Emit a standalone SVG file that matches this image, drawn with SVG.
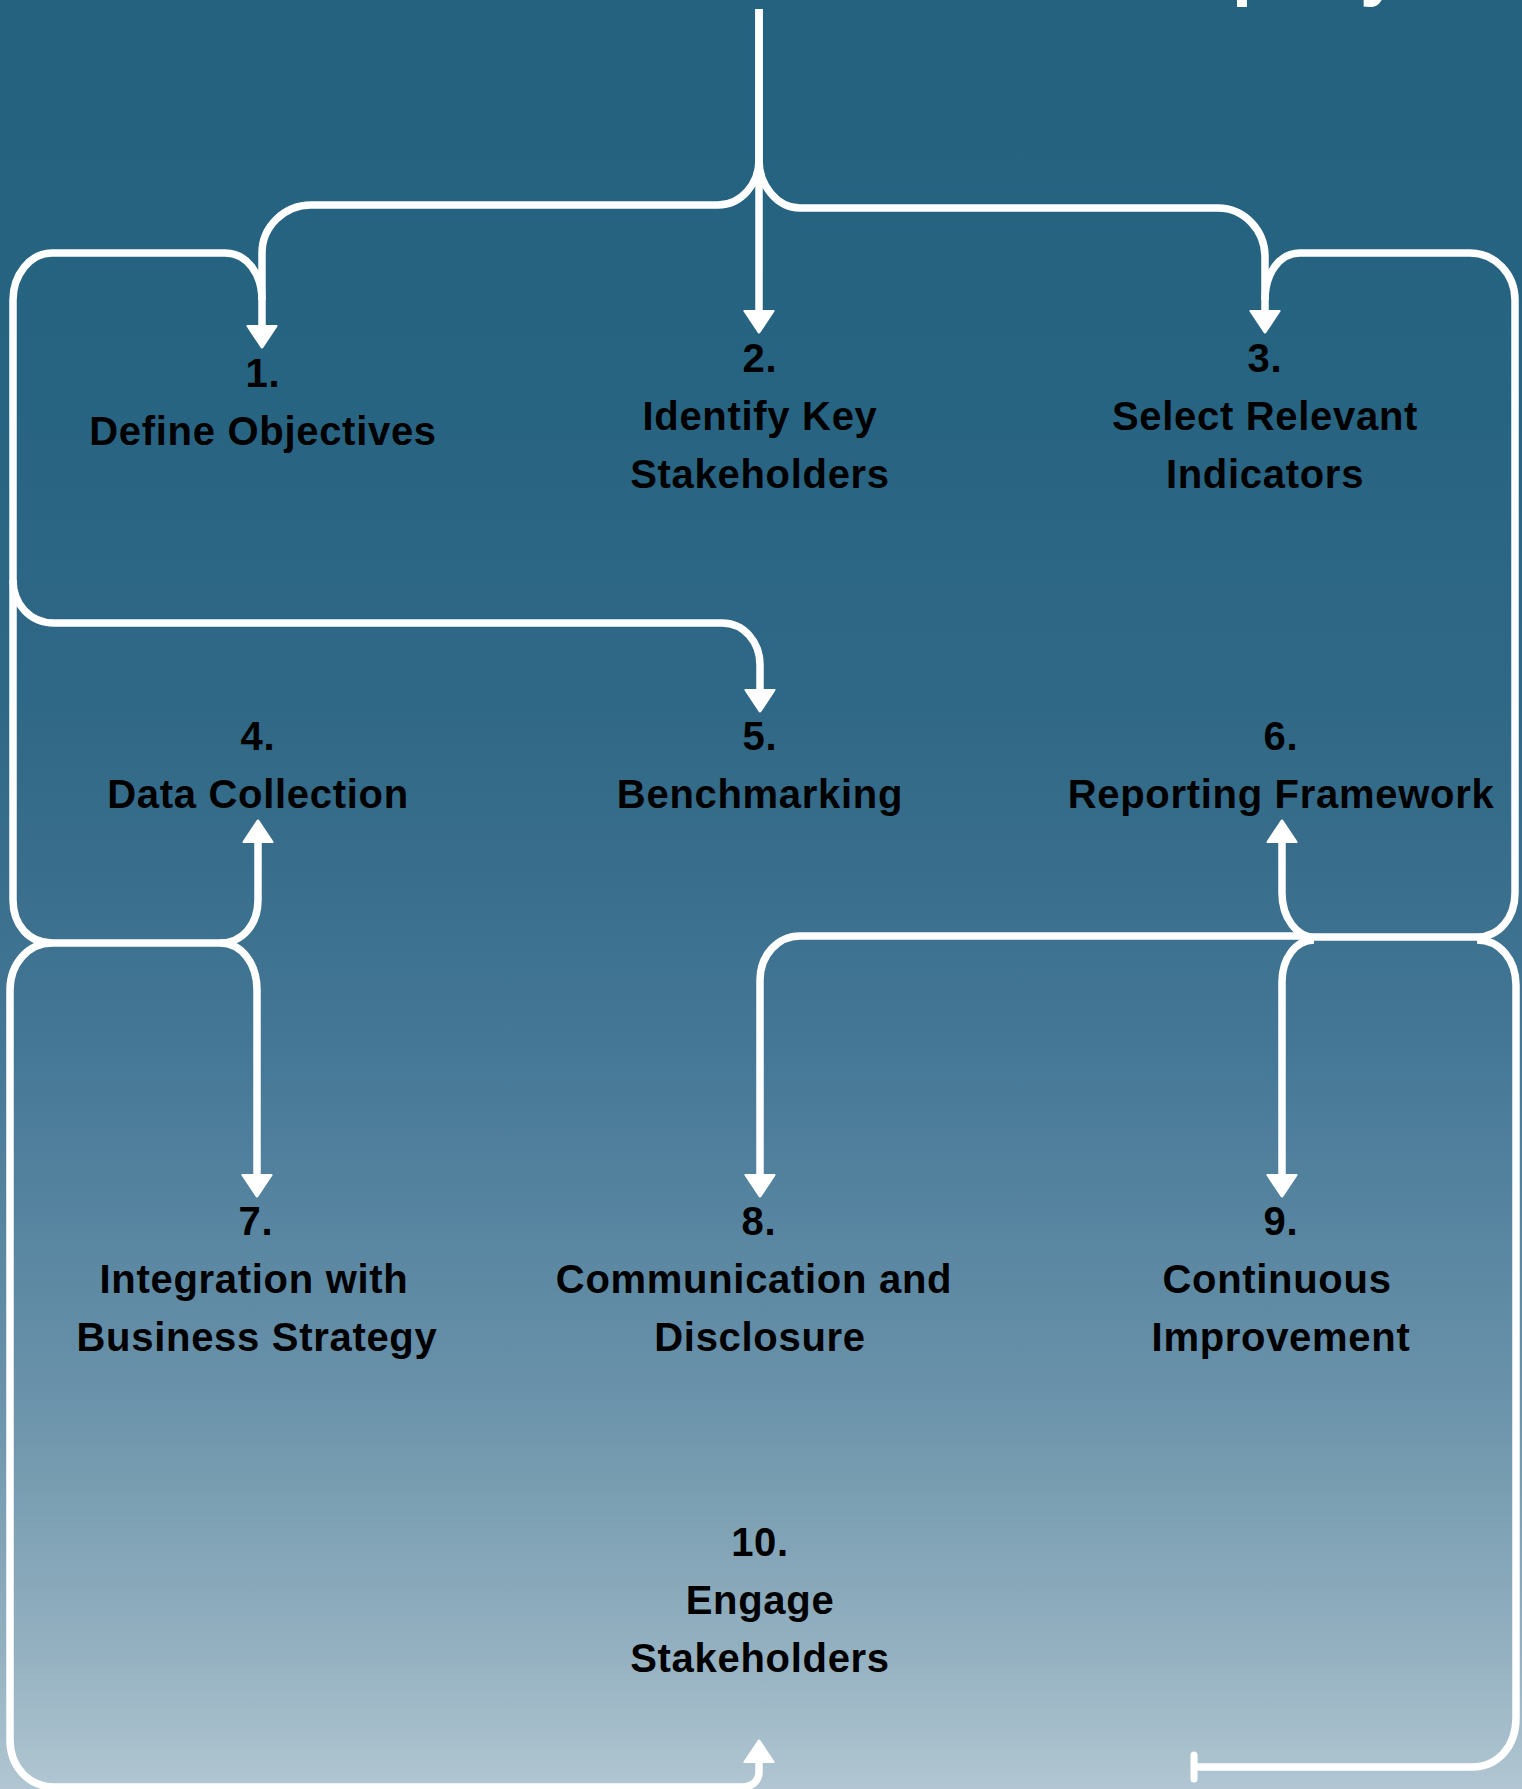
<svg xmlns="http://www.w3.org/2000/svg" width="1522" height="1789" viewBox="0 0 1522 1789">
  <defs>
    <linearGradient id="bg" x1="0" y1="0" x2="0" y2="1">
      <stop offset="0" stop-color="#256280"/>
      <stop offset="0.22" stop-color="#276482"/>
      <stop offset="0.39" stop-color="#2f6886"/>
      <stop offset="0.5" stop-color="#3a6f8d"/>
      <stop offset="0.59" stop-color="#457897"/>
      <stop offset="0.78" stop-color="#6a92aa"/>
      <stop offset="0.81" stop-color="#7299ae"/>
      <stop offset="0.92" stop-color="#93b0c0"/>
      <stop offset="1" stop-color="#b1c6d2"/>
    </linearGradient>
    <marker id="ah" viewBox="0 -16 25 32" refX="2" refY="0" markerWidth="25" markerHeight="32" markerUnits="userSpaceOnUse" orient="auto">
      <path d="M1,-14 L22,0 L1,14 Z" fill="#fff" stroke="#fff" stroke-width="3" stroke-linejoin="round"/>
    </marker>
    <marker id="tee" viewBox="-5 -17 10 34" refX="0" refY="0" markerWidth="10" markerHeight="34" markerUnits="userSpaceOnUse" orient="auto">
      <line x1="0" y1="-12" x2="0" y2="12" stroke="#fff" stroke-width="7" stroke-linecap="round"/>
    </marker>
    <style>
      .lbl { font-family: "Liberation Sans", Arial, sans-serif; font-weight: bold; font-size: 40px; letter-spacing: 0.7px; fill: #000; text-anchor: middle; }
      .title { font-family: "Liberation Sans", Arial, sans-serif; font-weight: bold; font-size: 72px; fill: #fff; }
      .c { fill: none; stroke: #fff; stroke-width: 7.5; stroke-linejoin: round; }
      .a { marker-end: url(#ah); }
    </style>
  </defs>
  <rect x="0" y="0" width="1522" height="1789" fill="url(#bg)"/>
  <g id="title">
    <text class="title" x="1072" y="-8">Company</text>
  </g>
  <g id="connectors">
    <path class="c a" d="M759,9 V160 C759,184 741,205 718,205 H311 C285,205 262,226 262,253 V327"/>
    <path class="c a" d="M759,9 V312"/>
    <path class="c a" d="M759,160 C759,185 777,208 800,208 H1218 C1244,208 1265,230 1265,257 V312"/>
    <path class="c a" d="M262,300 C262,274 247,253 225,253 H52 C30,253 13,275 13,300 V580 C13,604 30,623 54,623 H722 C744,623 760,642 760,665 V691"/>
    <path class="c a" d="M13,580 V900 C13,925 29,943 52,943 H220 C242,943 258,925 258,900 V841"/>
    <path class="c a" d="M52,943 C28,943 10,964 10,990 V1740 C10,1766 28,1787 55,1787 H742 C753,1787 759,1780 759,1772 V1761"/>
    <path class="c a" d="M220,943 C242,943 257,964 257,990 V1176"/>
    <path class="c a" d="M1265,300 C1265,274 1279,253 1300,253 H1470 C1495,253 1515,274 1515,300 V893 C1515,918 1499,937 1477,937 H1314 C1297,937 1282,918 1282,893 V841"/>
    <path class="c a" d="M1306,936 H800 C778,936 760,955 760,980 V1176"/>
    <path class="c a" d="M1314,940 C1296,940 1282,958 1282,982 V1176"/>
    <path class="c" marker-end="url(#tee)" d="M1477,940 C1500,940 1516,960 1516,985 V1718 C1516,1746 1498,1767 1472,1767 H1194"/>
  </g>
  <g id="node-1"><text class="lbl"><tspan x="263" y="387">1.</tspan><tspan x="263" y="445">Define Objectives</tspan></text></g>
  <g id="node-2"><text class="lbl"><tspan x="760" y="372">2.</tspan><tspan x="760" y="430">Identify Key</tspan><tspan x="760" y="488">Stakeholders</tspan></text></g>
  <g id="node-3"><text class="lbl"><tspan x="1265" y="372">3.</tspan><tspan x="1265" y="430">Select Relevant</tspan><tspan x="1265" y="488">Indicators</tspan></text></g>
  <g id="node-4"><text class="lbl"><tspan x="258" y="750">4.</tspan><tspan x="258" y="808">Data Collection</tspan></text></g>
  <g id="node-5"><text class="lbl"><tspan x="760" y="750">5.</tspan><tspan x="760" y="808">Benchmarking</tspan></text></g>
  <g id="node-6"><text class="lbl"><tspan x="1281" y="750">6.</tspan><tspan x="1281" y="808">Reporting Framework</tspan></text></g>
  <g id="node-7"><text class="lbl"><tspan x="256" y="1235">7.</tspan><tspan x="254" y="1293">Integration with</tspan><tspan x="257" y="1351">Business Strategy</tspan></text></g>
  <g id="node-8"><text class="lbl"><tspan x="759" y="1235">8.</tspan><tspan x="754" y="1293">Communication and</tspan><tspan x="760" y="1351">Disclosure</tspan></text></g>
  <g id="node-9"><text class="lbl"><tspan x="1281" y="1235">9.</tspan><tspan x="1277" y="1293">Continuous</tspan><tspan x="1281" y="1351">Improvement</tspan></text></g>
  <g id="node-10"><text class="lbl"><tspan x="760" y="1556">10.</tspan><tspan x="760" y="1614">Engage</tspan><tspan x="760" y="1672">Stakeholders</tspan></text></g>
</svg>
